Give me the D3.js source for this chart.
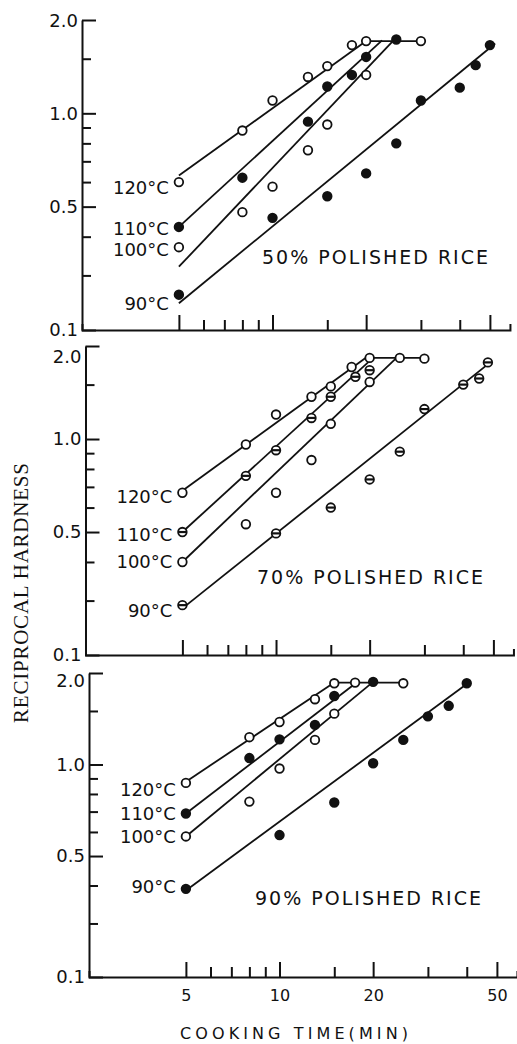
<!DOCTYPE html>
<html>
<head>
<meta charset="utf-8">
<script src="https://d3js.org/d3.v7.min.js"></script>
<style>
  body { margin: 0; background: #fff; }
  svg { display: block; }
</style>
</head>
<body>
<script>
// ---- data ----
var panelNames = ["50% POLISHED RICE", "70% POLISHED RICE", "90% POLISHED RICE"];
var temps = ["120°C", "110°C", "100°C", "90°C"];

var xMajor = [5, 10, 20, 50];
var xMinor = [6, 7, 8, 9, 15, 30, 40];
var yMajor = [2, 1, 0.5, 0.2];
var yTickLabels = ["2.0", "1.0", "0.5", "0.1"];   // bottom label reads 0.1 in the original
var yMinor = [1.5, 0.9, 0.8, 0.7, 0.6, 0.4, 0.3];

// measured points, [cooking time (min), reciprocal hardness], order = temps
var points50 = [
  [[5, 0.60], [8, 0.88], [10, 1.10], [13, 1.31], [15, 1.42], [18, 1.66], [20, 1.71], [30, 1.71]],
  [[5, 0.43], [8, 0.62], [13, 0.94], [15, 1.22], [18, 1.33], [20, 1.52], [25, 1.73]],
  [[5, 0.37], [8, 0.48], [10, 0.58], [13, 0.76], [15, 0.92], [20, 1.33]],
  [[5, 0.26], [10, 0.46], [15, 0.54], [20, 0.64], [25, 0.80], [30, 1.10], [40, 1.21], [45, 1.43], [50, 1.66]]
];
var points70 = [
  [[5, 0.67], [8, 0.96], [10, 1.20], [13, 1.37], [15, 1.48], [17.5, 1.71], [20, 1.83], [25, 1.83], [30, 1.82]],
  [[5, 0.50], [8, 0.76], [10, 0.92], [13, 1.17], [15, 1.37], [18, 1.59], [20, 1.67]],
  [[5, 0.40], [8, 0.53], [10, 0.67], [13, 0.855], [15, 1.12], [20, 1.53]],
  [[5, 0.29], [10, 0.495], [15, 0.60], [20, 0.74], [25, 0.91], [30, 1.25], [40, 1.50], [45, 1.57], [48, 1.77]]
];
var points90 = [
  [[5, 0.87], [8, 1.23], [10, 1.38], [13, 1.64], [15, 1.85], [17.5, 1.86], [25, 1.85]],
  [[5, 0.69], [8, 1.05], [10, 1.21], [13, 1.35], [15, 1.68], [20, 1.87]],
  [[5, 0.58], [8, 0.755], [10, 0.97], [13, 1.205], [15, 1.47]],
  [[5, 0.39], [10, 0.586], [15, 0.75], [20, 1.01], [25, 1.205], [30, 1.44], [35, 1.56], [40, 1.85]]
];

// fitted straight lines (start, end) for each temperature
var lines50 = [[[5, 0.63], [20, 1.71]], [[5, 0.43], [22.5, 1.72]], [[5, 0.32], [24.5, 1.72]], [[5, 0.244], [52, 1.68]]];
var lines70 = [[[5, 0.68], [19.4, 1.83]], [[5, 0.50], [20.5, 1.83]], [[5, 0.40], [24.4, 1.83]], [[5, 0.283], [48.5, 1.76]]];
var lines90 = [[[5, 0.878], [15, 1.86]], [[5, 0.69], [17.7, 1.86]], [[5, 0.58], [20, 1.87]], [[5, 0.385], [40, 1.84]]];

// the flat "fully cooked" level
var plateau50 = [[20, 1.71], [30, 1.71]];
var plateau70 = [[19.4, 1.83], [30, 1.83]];
var plateau90 = [[15, 1.86], [25, 1.86]];

// marker style per temperature
var markers50 = ["open", "filled", "open", "filled"];
var markers70 = ["open", "barred", "open", "barred"];
var markers90 = ["open", "filled", "open", "filled"];

// ---- layout ----
var w = 517;
var h = 1044;
var panelTop = [20, 346, 673];
var panelBottom = [330, 655, 977];
var panelLeft = [82, 85.5, 89];     // the scanned page is slightly skewed
var xMin = 2.44, xMax = 58, pxPerDecade = 311;
var labelDy = [[5, 2, 2, 9], [4, 2, 0, 5], [7, 0, 0, -2]];
var topLabelDy = [1, 11, 8];        // "2.0" sits a bit under its tick in the lower panels
var titleX = [262, 257, 255];
var titleY = [257, 577, 898];

var panels = [
  {name: panelNames[0], pts: points50, fit: lines50, flat: plateau50, mk: markers50},
  {name: panelNames[1], pts: points70, fit: lines70, flat: plateau70, mk: markers70},
  {name: panelNames[2], pts: points90, fit: lines90, flat: plateau90, mk: markers90}
];

var font = "'DejaVu Sans', sans-serif";

var svg = d3.select("body")
  .append("svg")
  .attr("width", w)
  .attr("height", h);

svg.append("rect").attr("width", w).attr("height", h).attr("fill", "#fff");

panels.forEach(function(p, i) {
  var x = d3.scaleLog()
    .domain([xMin, xMax])
    .range([panelLeft[i], panelLeft[i] + pxPerDecade * Math.log10(xMax / xMin)]);
  var y = d3.scaleLog()
    .domain([0.2, 2])
    .range([panelBottom[i], panelTop[i]]);

  var g = svg.append("g");

  // y axis, ticks point inward
  var yAx = g.append("g")
    .attr("transform", "translate(" + panelLeft[i] + ",0)")
    .call(d3.axisLeft(y)
      .tickValues(yMajor)
      .tickFormat(function(d) { return yTickLabels[yMajor.indexOf(d)]; })
      .tickSize(-14)
      .tickSizeOuter(0)
      .tickPadding(4));
  yAx.selectAll("text")
    .attr("font-family", font)
    .attr("font-size", 18)
    .attr("fill", "#111")
    .attr("transform", function(d) { return d == 2 ? "translate(0," + topLabelDy[i] + ")" : null; });

  g.append("g")
    .attr("transform", "translate(" + panelLeft[i] + ",0)")
    .call(d3.axisLeft(y).tickValues(yMinor).tickFormat("").tickSize(-9))
    .select(".domain").remove();

  // x axis
  var xAx = g.append("g")
    .attr("transform", "translate(0," + panelBottom[i] + ")")
    .call(d3.axisBottom(x)
      .tickValues(xMajor)
      .tickFormat(i == 2 ? d3.format("d") : "")
      .tickSize(-15)
      .tickSizeOuter(-6)
      .tickPadding(13));
  xAx.selectAll("text")
    .attr("font-family", font)
    .attr("font-size", 16)
    .attr("fill", "#111");

  g.append("g")
    .attr("transform", "translate(0," + panelBottom[i] + ")")
    .call(d3.axisBottom(x).tickValues(xMinor).tickFormat("").tickSize(-10))
    .select(".domain").remove();

  g.selectAll(".domain, .tick line")
    .attr("stroke", "#111")
    .attr("stroke-width", 2);

  var line = d3.line()
    .x(function(d) { return x(d[0]); })
    .y(function(d) { return y(d[1]); });

  // fitted lines + plateau
  g.selectAll(".fit")
    .data(p.fit)
    .enter().append("path")
    .attr("class", "fit")
    .attr("d", line)
    .attr("fill", "none")
    .attr("stroke", "#111")
    .attr("stroke-width", 1.8);

  g.append("path")
    .attr("d", line(p.flat))
    .attr("fill", "none")
    .attr("stroke", "#111")
    .attr("stroke-width", 1.8);

  // points
  p.pts.forEach(function(series, k) {
    var type = p.mk[k];
    var dots = g.selectAll(".dot" + k)
      .data(series)
      .enter().append("g")
      .attr("transform", function(d) { return "translate(" + x(d[0]) + "," + y(d[1]) + ")"; });

    dots.append("circle")
      .attr("r", 4.3)
      .attr("fill", type == "filled" ? "#111" : "#fff")
      .attr("stroke", "#111")
      .attr("stroke-width", 1.8);

    if (type == "barred") {
      dots.append("line")
        .attr("x1", -4).attr("x2", 4)
        .attr("stroke", "#111")
        .attr("stroke-width", 2.2);
    }

    // temperature label left of the 5 min point
    g.append("text")
      .attr("x", x(series[0][0]) - 10)
      .attr("y", y(series[0][1]) + labelDy[i][k])
      .attr("dominant-baseline", "central")
      .attr("text-anchor", "end")
      .attr("font-family", font)
      .attr("font-size", 18)
      .attr("fill", "#111")
      .text(temps[k]);
  });

  // panel title
  g.append("text")
    .attr("x", titleX[i])
    .attr("y", titleY[i])
    .attr("dominant-baseline", "central")
    .attr("font-family", font)
    .attr("font-size", 19)
    .attr("textLength", 226)
    .attr("lengthAdjust", "spacing")
    .attr("fill", "#111")
    .text(p.name);
});

// axis titles
svg.append("text")
  .attr("transform", "translate(21,593) rotate(-90)")
  .attr("text-anchor", "middle")
  .attr("dominant-baseline", "central")
  .attr("font-family", "'Liberation Serif', serif")
  .attr("font-size", 21)
  .attr("textLength", 260)
  .attr("lengthAdjust", "spacing")
  .attr("fill", "#111")
  .text("RECIPROCAL HARDNESS");

svg.append("text")
  .attr("x", 294)
  .attr("y", 1033)
  .attr("text-anchor", "middle")
  .attr("dominant-baseline", "central")
  .attr("font-family", font)
  .attr("font-size", 16)
  .attr("textLength", 228)
  .attr("lengthAdjust", "spacing")
  .attr("fill", "#111")
  .text("COOKING TIME(MIN)");
</script>
</body>
</html>
